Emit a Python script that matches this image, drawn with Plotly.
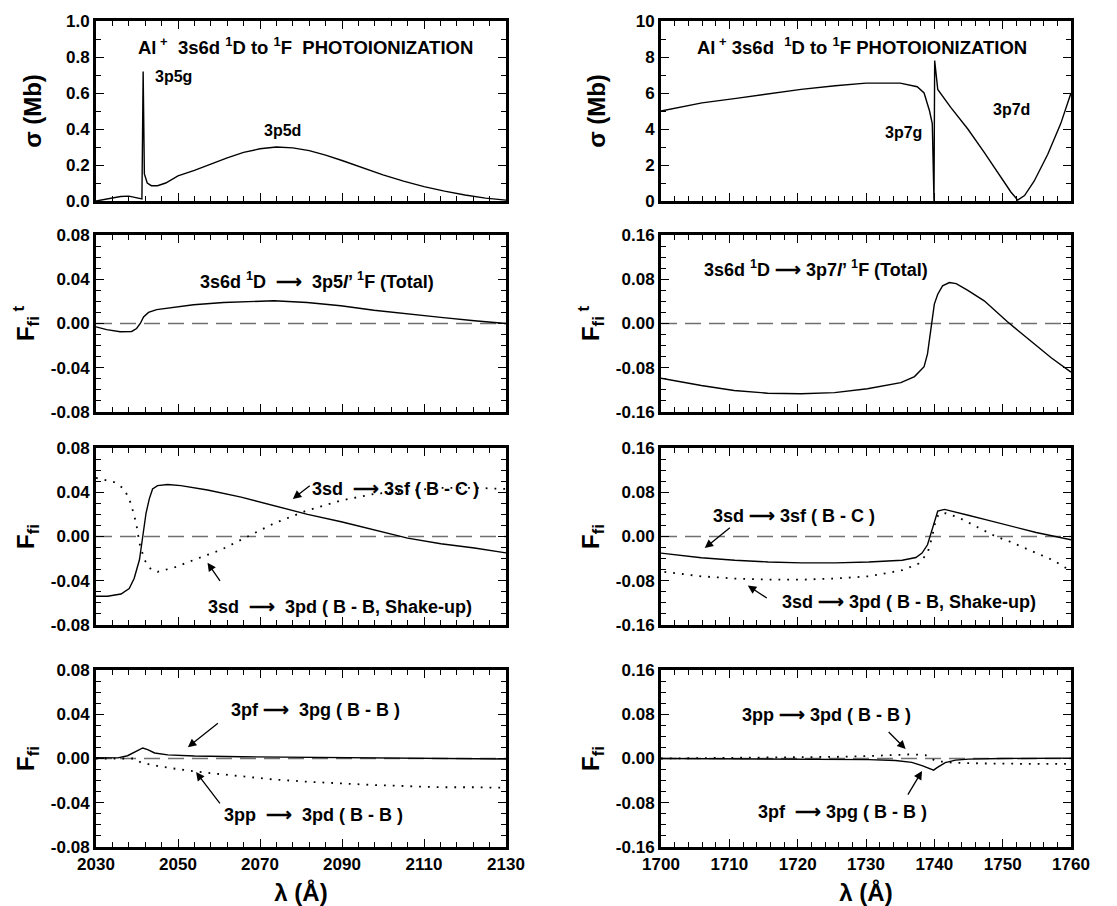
import plotly.graph_objects as go

# ---------------- data ----------------
# Panel 1 (cross sections)
lam_sig_L = [2030, 2033, 2036, 2038, 2040, 2041.2, 2041.5, 2041.8, 2042.5, 2043.5, 2045, 2047, 2050, 2054, 2058,
             2062, 2066, 2070, 2074, 2078, 2082, 2086, 2090, 2095, 2100, 2105, 2110, 2115, 2120, 2125, 2130]
sig_L = [0.0, 0.012, 0.025, 0.027, 0.018, 0.012, 0.72, 0.15, 0.10, 0.085, 0.085, 0.10, 0.14, 0.17, 0.205,
         0.24, 0.27, 0.29, 0.30, 0.295, 0.28, 0.255, 0.225, 0.185, 0.145, 0.11, 0.08, 0.055, 0.033, 0.016, 0.005]

lam_sig_R = [1700, 1706, 1711, 1716, 1720.5, 1725.5, 1730, 1735, 1737.5, 1738.5, 1739.3, 1739.7, 1739.95,
             1740.05, 1740.5, 1742.4, 1744.9, 1747.3, 1749.8, 1751.2, 1752.2, 1753.2, 1754.6, 1756.6, 1758.5, 1760]
sig_R = [5.0, 5.45, 5.7, 5.95, 6.2, 6.4, 6.55, 6.55, 6.35, 6.0, 5.0, 4.3, 0.0,
         7.8, 6.2, 5.2, 4.0, 2.7, 1.3, 0.5, 0.05, 0.3, 1.1, 2.6, 4.3, 6.0]

# Panel 2 (total oscillator strengths)
lam_tot_L = [2030, 2032.6, 2035.9, 2038.7, 2039.9, 2040.8, 2041.6, 2042.8, 2044.8, 2050.5, 2053.8, 2061.1,
             2073.4, 2081.5, 2089.7, 2097.8, 2106, 2114.1, 2122.3, 2130]
tot_L = [-0.003, -0.0055, -0.0075, -0.0072, -0.0045, 0.0, 0.006, 0.010, 0.0125, 0.015, 0.017, 0.019,
         0.0205, 0.019, 0.016, 0.012, 0.0085, 0.0055, 0.0025, 0.0]

lam_tot_R = [1700, 1705.9, 1710.7, 1715.6, 1720.5, 1725.4, 1730.2, 1735.1, 1737.1, 1738.5, 1739, 1739.5, 1740,
             1740.5, 1741.2, 1742.2, 1743.2, 1744.9, 1747.3, 1750.7, 1754.6, 1757.1, 1760]
tot_R = [-0.099, -0.112, -0.121, -0.126, -0.127, -0.125, -0.118, -0.107, -0.096, -0.078, -0.055, -0.01, 0.035,
         0.053, 0.068, 0.074, 0.072, 0.06, 0.041, 0.003, -0.037, -0.062, -0.088]

# Panel 3 (3sd -> 3sf solid, 3sd -> 3pd dotted)
lam_sf_L = [2030, 2032.8, 2036.1, 2038.1, 2039.3, 2040.6, 2041.4, 2042.2, 2043, 2043.8, 2045, 2047.5, 2050.7,
            2057.2, 2065.4, 2073.5, 2081.6, 2089.8, 2097.9, 2106, 2114.1, 2122.3, 2130]
sf_L = [-0.054, -0.054, -0.052, -0.047, -0.038, -0.021, 0.0, 0.021, 0.034, 0.043, 0.046, 0.047, 0.046,
        0.042, 0.0356, 0.028, 0.020, 0.0133, 0.006, -0.0015, -0.0065, -0.0104, -0.0148]
lam_pd_L = [2030, 2034.5, 2036.9, 2038.5, 2039.8, 2040.6, 2041.8, 2043.4, 2045, 2049.1, 2054, 2060.5, 2067,
            2073.5, 2081.6, 2089.8, 2097.9, 2106, 2114.1, 2122.3, 2130]
pd_L = [0.053, 0.049, 0.043, 0.030, 0.012, -0.006, -0.021, -0.0296, -0.032, -0.028, -0.021, -0.012, 0.0,
        0.012, 0.0237, 0.0326, 0.0385, 0.0415, 0.044, 0.044, 0.043]

lam_sf_R = [1700, 1705.9, 1710.8, 1715.7, 1720.6, 1725.5, 1730.4, 1735.3, 1737.3, 1738.2, 1739, 1739.5, 1740,
            1740.5, 1741.5, 1742.6, 1745.1, 1747.5, 1750, 1754.9, 1760]
sf_R = [-0.030, -0.0385, -0.043, -0.046, -0.0476, -0.0476, -0.046, -0.043, -0.038, -0.030, -0.015, 0.006, 0.0275,
        0.046, 0.049, 0.046, 0.038, 0.0305, 0.023, 0.0073, -0.006]
lam_pd_R = [1700.5, 1705.9, 1710.8, 1715.7, 1720.6, 1725.5, 1730.4, 1735.3, 1737.7, 1739, 1739.7, 1740.2,
            1740.7, 1741.7, 1743.6, 1746.1, 1749, 1751, 1754.9, 1757.4, 1759.8]
pd_R = [-0.064, -0.072, -0.076, -0.078, -0.078, -0.076, -0.072, -0.061, -0.049, -0.030, 0.0, 0.030,
        0.041, 0.042, 0.034, 0.018, 0.0, -0.009, -0.030, -0.043, -0.061]

# Panel 4 (3pf -> 3pg solid, 3pp -> 3pd dotted)
lam_pg_L = [2030, 2035.3, 2037.7, 2039.7, 2041.4, 2042.6, 2044.3, 2047.5, 2054, 2065.4, 2081.6, 2097.9, 2114.1, 2130]
pg_L = [0.0008, 0.0006, 0.0025, 0.006, 0.0095, 0.008, 0.005, 0.0033, 0.0022, 0.0016, 0.001, 0.0004, 0.0, -0.0004]
lam_pp_L = [2030, 2039.3, 2041, 2045.9, 2050.7, 2057.2, 2065.4, 2073.5, 2081.6, 2089.8, 2097.9, 2106, 2114.1,
            2122.3, 2130]
pp_L = [0.0, 0.0, -0.0037, -0.0074, -0.010, -0.013, -0.016, -0.019, -0.021, -0.0228, -0.024, -0.025, -0.026,
        -0.026, -0.0265]

lam_pg_R = [1700, 1720.7, 1730.4, 1734.3, 1736.7, 1738.2, 1739.9, 1740.4, 1741.6, 1743.1, 1745, 1749.9, 1760]
pg_R = [0.0, -0.0008, -0.002, -0.0035, -0.007, -0.013, -0.021, -0.0165, -0.0075, -0.003, -0.0012, 0.0, 0.0006]
lam_pp_R = [1700, 1715.8, 1725.5, 1730.4, 1734.3, 1736.7, 1738.7, 1739.7, 1740.2, 1742.6, 1747.5, 1754.8, 1759.6]
pp_R = [0.0, 0.0012, 0.003, 0.0045, 0.006, 0.0075, 0.006, 0.0, -0.0045, -0.0075, -0.009, -0.0098, -0.0098]

# axis ranges / ticks
x_range_L = [2030, 2130]
x_range_R = [1700, 1760]
x_ticks_L = [2030, 2050, 2070, 2090, 2110, 2130]
x_ticks_R = [1700, 1710, 1720, 1730, 1740, 1750, 1760]
sig_ticks_L = [0.0, 0.2, 0.4, 0.6, 0.8, 1.0]
sig_labels_L = ["0.0", "0.2", "0.4", "0.6", "0.8", "1.0"]
sig_ticks_R = [0, 2, 4, 6, 8, 10]
sig_labels_R = ["0", "2", "4", "6", "8", "10"]
f_ticks_L = [-0.08, -0.04, 0.0, 0.04, 0.08]
f_labels_L = ["-0.08", "-0.04", "0.00", "0.04", "0.08"]
f_ticks_R = [-0.16, -0.08, 0.0, 0.08, 0.16]
f_labels_R = ["-0.16", "-0.08", "0.00", "0.08", "0.16"]

# ---------------- layout helpers ----------------
W, H = 1117, 906
FONT = "Liberation Sans, Arial, Helvetica, sans-serif"
col_px = [(88, 498), (653, 1063)]
row_px = [(13, 193), (227, 404), (440, 617), (662, 839)]
ARR = "⟶"

fig = go.Figure()


def B(s):
    return f"<b>{s}</b>"


def ax_names(k):
    return ("x" if k == 1 else f"x{k}"), ("y" if k == 1 else f"y{k}")


def add_line(k, x, y, dotted=False):
    xn, yn = ax_names(k)
    fig.add_trace(go.Scatter(
        x=x, y=y, xaxis=xn, yaxis=yn, mode="lines", showlegend=False, hoverinfo="skip",
        line=dict(color="black", width=1.8 if dotted else 1.4,
                  dash="1.8px,7px" if dotted else "solid")))


layout = {}
for r in range(4):
    for c in range(2):
        k = 2 * r + c + 1
        xn, yn = ax_names(k)
        xl = "xaxis" if k == 1 else f"xaxis{k}"
        yl = "yaxis" if k == 1 else f"yaxis{k}"
        x0, x1 = col_px[c]
        t0, b0 = row_px[r]
        xr = x_range_L if c == 0 else x_range_R
        xt = x_ticks_L if c == 0 else x_ticks_R
        layout[xl] = dict(
            domain=[x0 / W, x1 / W], anchor=yn, range=xr, automargin=False,
            tickmode="array", tickvals=xt, ticktext=[B(v) for v in xt],
            showticklabels=(r == 3), ticks="inside", ticklen=8, tickwidth=1.3, tickcolor="black",
            minor=dict(tickmode="linear", tick0=xr[0], dtick=(4 if c == 0 else 2), ticks="inside",
                       ticklen=5, tickwidth=1.1, tickcolor="black"),
            showline=True, linewidth=3, linecolor="black", mirror="ticks",
            showgrid=False, zeroline=False,
            tickfont=dict(family=FONT, size=17, color="black"),
        )
        if r == 3:
            layout[xl]["title"] = dict(text=B("λ (Å)"), font=dict(family=FONT, size=24, color="black"),
                                       standoff=11)
        if r == 0:
            if c == 0:
                yr, tv, tt, mdt = [0, 1.0], sig_ticks_L, sig_labels_L, 0.1
            else:
                yr, tv, tt, mdt = [0, 10], sig_ticks_R, sig_labels_R, 1
            ytitle = B("σ (Mb)")
            sto = 18 if c == 0 else 24
        else:
            if c == 0:
                yr, tv, tt, mdt = [-0.08, 0.08], f_ticks_L, f_labels_L, 0.01
            else:
                yr, tv, tt, mdt = [-0.16, 0.16], f_ticks_R, f_labels_R, 0.02
            ytitle = B("F<sub>fi</sub><sup> t</sup>") if r == 1 else B("F<sub>fi</sub>")
            sto = 10
        layout[yl] = dict(
            domain=[1 - b0 / H, 1 - t0 / H], anchor=xn, range=yr, automargin=False,
            tickmode="array", tickvals=tv, ticktext=[B(s) for s in tt],
            ticks="inside", ticklen=8, tickwidth=1.3, tickcolor="black",
            minor=dict(tickmode="linear", tick0=yr[0], dtick=mdt, ticks="inside",
                       ticklen=5, tickwidth=1.1, tickcolor="black"),
            showline=True, linewidth=3, linecolor="black", mirror="ticks",
            showgrid=False, zeroline=False,
            tickfont=dict(family=FONT, size=17, color="black"),
            title=dict(text=ytitle, font=dict(family=FONT, size=24, color="black"), standoff=sto),
        )

fig.update_layout(**layout)

# ---------------- traces ----------------
add_line(1, lam_sig_L, sig_L)
add_line(2, lam_sig_R, sig_R)
add_line(3, lam_tot_L, tot_L)
add_line(4, lam_tot_R, tot_R)
add_line(5, lam_pd_L, pd_L, dotted=True)
add_line(5, lam_sf_L, sf_L)
add_line(6, lam_pd_R, pd_R, dotted=True)
add_line(6, lam_sf_R, sf_R)
add_line(7, lam_pp_L, pp_L, dotted=True)
add_line(7, lam_pg_L, pg_L)
add_line(8, lam_pp_R, pp_R, dotted=True)
add_line(8, lam_pg_R, pg_R)

# dashed zero reference lines
for k in range(3, 9):
    xn, yn = ax_names(k)
    fig.add_shape(type="line", xref=f"{xn} domain", yref=yn, x0=0, x1=1, y0=0, y1=0,
                  line=dict(color="#707070", width=1.4, dash="16px,8px"), layer="below")

# ---------------- annotations ----------------
def label(k, x, y, text, size=18, domain=False):
    xn, yn = ax_names(k)
    fig.add_annotation(
        x=x, y=y, xref=(f"{xn} domain" if domain else xn), yref=(f"{yn} domain" if domain else yn),
        text=B(text), showarrow=False, font=dict(family=FONT, size=size, color="black"),
        xanchor="center", yanchor="middle")


def arrow(k, tail, tip):
    xn, yn = ax_names(k)
    fig.add_annotation(x=tip[0], y=tip[1], ax=tail[0], ay=tail[1], xref=xn, yref=yn, axref=xn, ayref=yn,
                       text="", showarrow=True, arrowhead=2, arrowsize=1.3, arrowwidth=1.3,
                       arrowcolor="black", standoff=0, startstandoff=0)


label(1, 0.51, 0.86, "Al<sup> +</sup>  3s6d <sup>1</sup>D to <sup>1</sup>F  PHOTOIONIZATION", size=18.5, domain=True)
label(2, 0.49, 0.86, "Al<sup> +</sup> 3s6d  <sup>1</sup>D to <sup>1</sup>F PHOTOIONIZATION", size=18.5, domain=True)
label(1, 2049, 0.69, "3p5g", size=16)
label(1, 2075.5, 0.39, "3p5d", size=16)
label(2, 1735.5, 3.8, "3p7g", size=16)
label(2, 1751.3, 5.1, "3p7d", size=16)

label(3, 2084, 0.039, f"3s6d <sup>1</sup>D  {ARR}  3p5<i>l</i>’ <sup>1</sup>F (Total)")
label(4, 1722.7, 0.10, f"3s6d <sup>1</sup>D {ARR} 3p7<i>l</i>’ <sup>1</sup>F (Total)")

label(5, 2103, 0.043, f"3sd  {ARR} 3sf ( B - C )")
arrow(5, (2082.5, 0.047), (2078, 0.034))
label(5, 2089.5, -0.0637, f"3sd  {ARR}  3pd ( B - B, Shake-up)")
arrow(5, (2060.5, -0.0415), (2057.2, -0.0237))

label(6, 1719.4, 0.0366, f"3sd {ARR} 3sf ( B - C )")
arrow(6, (1710.3, 0.018), (1706.4, -0.021))
label(6, 1736.3, -0.119, f"3sd {ARR} 3pd ( B - B, Shake-up)")
arrow(6, (1715.7, -0.113), (1712.7, -0.0886))

label(7, 2083.5, 0.044, f"3pf {ARR}  3pg ( B - B )")
arrow(7, (2060.1, 0.033), (2052.4, 0.0102))
label(7, 2083, -0.0514, f"3pp  {ARR}  3pd ( B - B )")
arrow(7, (2060.5, -0.042), (2054.4, -0.0123))

label(8, 1724.2, 0.078, f"3pp {ARR} 3pd ( B - B )")
arrow(8, (1733.1, 0.0507), (1735.8, 0.017))
label(8, 1726.6, -0.0959, f"3pf  {ARR} 3pg ( B - B )")
arrow(8, (1736, -0.068), (1738.2, -0.0226))

fig.update_layout(width=W, height=H, margin=dict(l=0, r=0, t=0, b=0, autoexpand=False),
                  template="none", paper_bgcolor="white", plot_bgcolor="white",
                  font=dict(family=FONT, color="black"))

fig.write_html("out.html")
